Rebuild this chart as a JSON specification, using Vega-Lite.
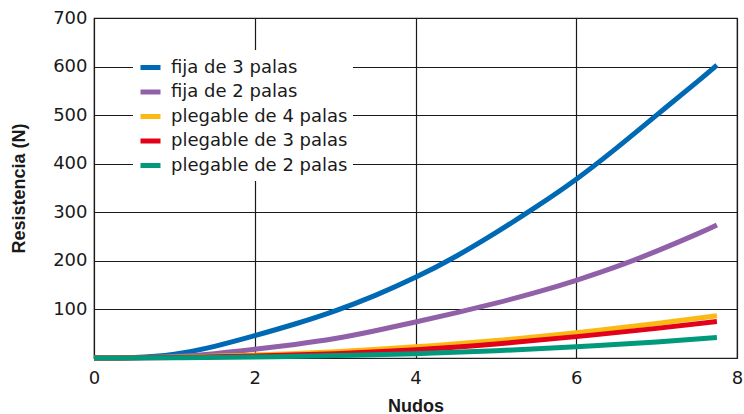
{
  "$schema": "https://vega.github.io/schema/vega-lite/v6.json",
  "autosize": {"type": "none"},
  "width": 643,
  "height": 340,
  "padding": {"left": 94, "top": 18, "right": 7, "bottom": 56},
  "background": "white",
  "config": {
    "view": {"stroke": "#222222", "strokeWidth": 1.2},
    "axis": {
      "grid": true,
      "gridColor": "#1a1a1a",
      "gridOpacity": 1,
      "gridWidth": 1.2,
      "domain": false,
      "ticks": false,
      "labelFont": "DejaVu Sans",
      "labelFontSize": 18,
      "labelColor": "#1a1a1a",
      "titleFont": "Liberation Sans",
      "titleFontSize": 18,
      "titleFontWeight": "bold",
      "titleColor": "#1a1a1a"
    }
  },
  "data": {
    "values": [
      {"nudos": 0, "resistencia": 0, "serie": "fija de 3 palas"},
      {"nudos": 0.5, "resistencia": 1, "serie": "fija de 3 palas"},
      {"nudos": 1, "resistencia": 8, "serie": "fija de 3 palas"},
      {"nudos": 1.5, "resistencia": 24, "serie": "fija de 3 palas"},
      {"nudos": 2, "resistencia": 46, "serie": "fija de 3 palas"},
      {"nudos": 2.5, "resistencia": 70, "serie": "fija de 3 palas"},
      {"nudos": 3, "resistencia": 97, "serie": "fija de 3 palas"},
      {"nudos": 3.5, "resistencia": 129, "serie": "fija de 3 palas"},
      {"nudos": 4, "resistencia": 166, "serie": "fija de 3 palas"},
      {"nudos": 4.5, "resistencia": 209, "serie": "fija de 3 palas"},
      {"nudos": 5, "resistencia": 258, "serie": "fija de 3 palas"},
      {"nudos": 5.5, "resistencia": 311, "serie": "fija de 3 palas"},
      {"nudos": 6, "resistencia": 368, "serie": "fija de 3 palas"},
      {"nudos": 6.5, "resistencia": 432, "serie": "fija de 3 palas"},
      {"nudos": 7, "resistencia": 500, "serie": "fija de 3 palas"},
      {"nudos": 7.5, "resistencia": 568, "serie": "fija de 3 palas"},
      {"nudos": 7.75, "resistencia": 603, "serie": "fija de 3 palas"},
      {"nudos": 0, "resistencia": 0, "serie": "fija de 2 palas"},
      {"nudos": 0.5, "resistencia": 0.5, "serie": "fija de 2 palas"},
      {"nudos": 1, "resistencia": 3, "serie": "fija de 2 palas"},
      {"nudos": 1.5, "resistencia": 9, "serie": "fija de 2 palas"},
      {"nudos": 2, "resistencia": 18, "serie": "fija de 2 palas"},
      {"nudos": 2.5, "resistencia": 28, "serie": "fija de 2 palas"},
      {"nudos": 3, "resistencia": 40, "serie": "fija de 2 palas"},
      {"nudos": 3.5, "resistencia": 56, "serie": "fija de 2 palas"},
      {"nudos": 4, "resistencia": 74, "serie": "fija de 2 palas"},
      {"nudos": 4.5, "resistencia": 93, "serie": "fija de 2 palas"},
      {"nudos": 5, "resistencia": 113, "serie": "fija de 2 palas"},
      {"nudos": 5.5, "resistencia": 135, "serie": "fija de 2 palas"},
      {"nudos": 6, "resistencia": 160, "serie": "fija de 2 palas"},
      {"nudos": 6.5, "resistencia": 188, "serie": "fija de 2 palas"},
      {"nudos": 7, "resistencia": 220, "serie": "fija de 2 palas"},
      {"nudos": 7.5, "resistencia": 255, "serie": "fija de 2 palas"},
      {"nudos": 7.75, "resistencia": 274, "serie": "fija de 2 palas"},
      {"nudos": 0, "resistencia": 0, "serie": "plegable de 4 palas"},
      {"nudos": 1, "resistencia": 1.5, "serie": "plegable de 4 palas"},
      {"nudos": 2, "resistencia": 6, "serie": "plegable de 4 palas"},
      {"nudos": 3, "resistencia": 13, "serie": "plegable de 4 palas"},
      {"nudos": 4, "resistencia": 23, "serie": "plegable de 4 palas"},
      {"nudos": 5, "resistencia": 36, "serie": "plegable de 4 palas"},
      {"nudos": 6, "resistencia": 52, "serie": "plegable de 4 palas"},
      {"nudos": 7, "resistencia": 71, "serie": "plegable de 4 palas"},
      {"nudos": 7.75, "resistencia": 87, "serie": "plegable de 4 palas"},
      {"nudos": 0, "resistencia": 0, "serie": "plegable de 3 palas"},
      {"nudos": 1, "resistencia": 1, "serie": "plegable de 3 palas"},
      {"nudos": 2, "resistencia": 4, "serie": "plegable de 3 palas"},
      {"nudos": 3, "resistencia": 9, "serie": "plegable de 3 palas"},
      {"nudos": 4, "resistencia": 17, "serie": "plegable de 3 palas"},
      {"nudos": 5, "resistencia": 29, "serie": "plegable de 3 palas"},
      {"nudos": 6, "resistencia": 44, "serie": "plegable de 3 palas"},
      {"nudos": 7, "resistencia": 61, "serie": "plegable de 3 palas"},
      {"nudos": 7.75, "resistencia": 75, "serie": "plegable de 3 palas"},
      {"nudos": 0, "resistencia": 0, "serie": "plegable de 2 palas"},
      {"nudos": 1, "resistencia": 0.5, "serie": "plegable de 2 palas"},
      {"nudos": 2, "resistencia": 2, "serie": "plegable de 2 palas"},
      {"nudos": 3, "resistencia": 5, "serie": "plegable de 2 palas"},
      {"nudos": 4, "resistencia": 9, "serie": "plegable de 2 palas"},
      {"nudos": 5, "resistencia": 15, "serie": "plegable de 2 palas"},
      {"nudos": 6, "resistencia": 23, "serie": "plegable de 2 palas"},
      {"nudos": 7, "resistencia": 33, "serie": "plegable de 2 palas"},
      {"nudos": 7.75, "resistencia": 42, "serie": "plegable de 2 palas"}
    ]
  },
  "mark": {"type": "line", "strokeWidth": 5, "interpolate": "natural"},
  "encoding": {
    "x": {
      "field": "nudos",
      "type": "quantitative",
      "title": "Nudos",
      "scale": {"domain": [0, 8], "nice": false},
      "axis": {"values": [0, 2, 4, 6, 8], "labelPadding": 11, "titlePadding": 10, "labelFlush": false}
    },
    "y": {
      "field": "resistencia",
      "type": "quantitative",
      "title": "Resistencia (N)",
      "scale": {"domain": [0, 700], "nice": false},
      "axis": {"values": [100, 200, 300, 400, 500, 600, 700], "labelPadding": 7, "titlePadding": 24}
    },
    "color": {
      "field": "serie",
      "type": "nominal",
      "sort": null,
      "scale": {
        "domain": ["fija de 3 palas", "fija de 2 palas", "plegable de 4 palas", "plegable de 3 palas", "plegable de 2 palas"],
        "range": ["#0069B4", "#9060A8", "#FDB913", "#E2001A", "#00997B"]
      },
      "legend": {
        "title": null,
        "orient": "none",
        "legendX": 39,
        "legendY": 32,
        "fillColor": "white",
        "padding": 5,
        "symbolType": "stroke",
        "symbolSize": 400,
        "symbolStrokeWidth": 5,
        "labelFont": "DejaVu Sans",
        "labelFontSize": 18,
        "labelColor": "#1a1a1a",
        "labelOffset": 8,
        "labelLimit": 0,
        "rowPadding": 1.5
      }
    }
  }
}
